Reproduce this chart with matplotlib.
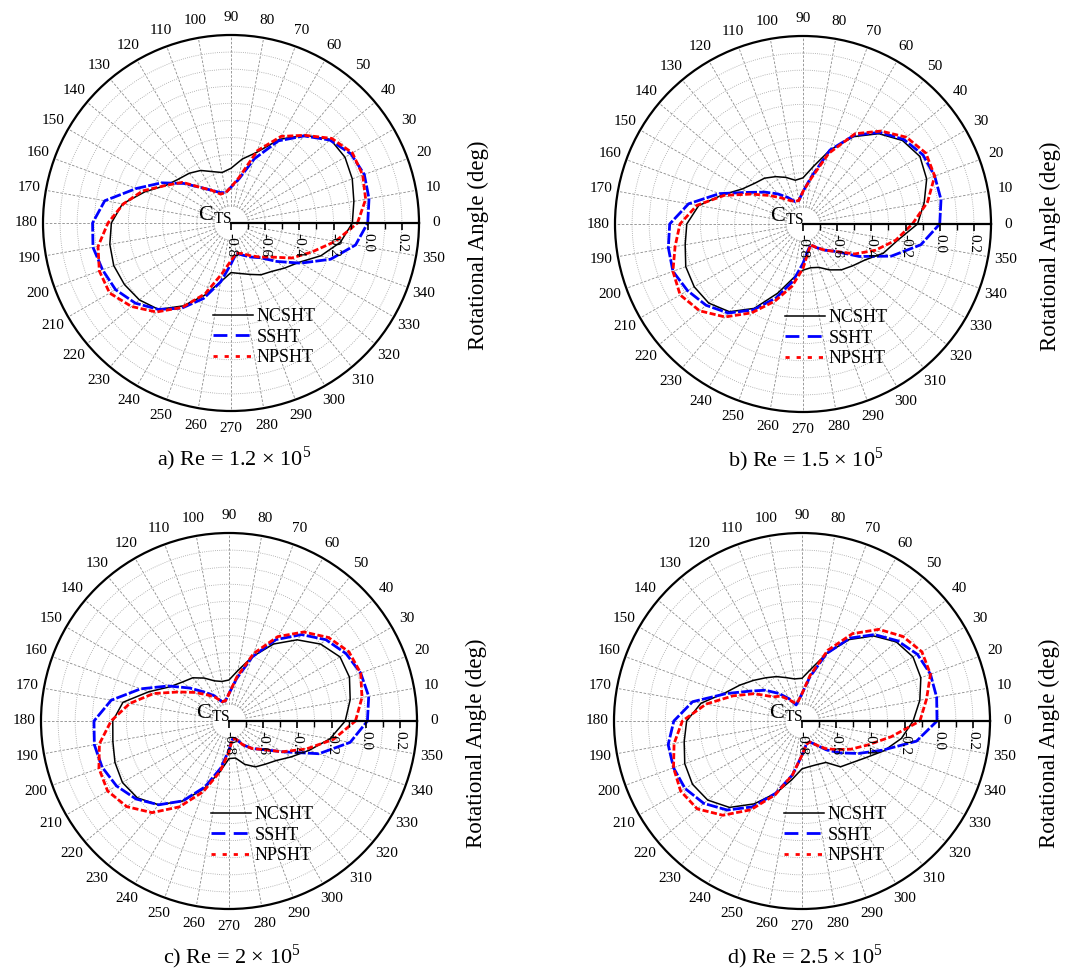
import numpy as np
import matplotlib
matplotlib.use("Agg")
import matplotlib.pyplot as plt
from matplotlib.lines import Line2D
from matplotlib.ticker import FixedLocator

plt.rcParams["font.family"] = ["Liberation Serif", "DejaVu Serif"]
plt.rcParams["mathtext.fontset"] = "custom"
plt.rcParams["mathtext.rm"] = "Liberation Serif"

# Rotational angle (deg) at which the torque coefficient was sampled
angle_deg = np.arange(0, 360, 10)

# C_TS per rotational angle, one list per turbine and Reynolds number
a_ncsht = [-0.09, -0.07, -0.045, -0.03, -0.04, -0.13, -0.235, -0.36, -0.42, -0.48, -0.50, -0.48,
           -0.445, -0.42, -0.40, -0.36, -0.265, -0.155, -0.10, -0.08, -0.07, -0.08, -0.10, -0.14,
           -0.24, -0.35, -0.45, -0.51, -0.50, -0.48, -0.45, -0.43, -0.39, -0.34, -0.24, -0.15]
a_ssht = [0.00, 0.02, 0.03, 0.01, -0.045, -0.135, -0.245, -0.40, -0.54, -0.59, -0.62, -0.61,
          -0.58, -0.53, -0.44, -0.33, -0.21, -0.05, 0.01, 0.02, 0.00, -0.02, -0.07, -0.14,
          -0.225, -0.33, -0.45, -0.56, -0.62, -0.60, -0.57, -0.535, -0.45, -0.33, -0.18, -0.06]
a_npsht = [-0.06, 0.00, 0.02, 0.02, -0.03, -0.13, -0.215, -0.35, -0.53, -0.59, -0.62, -0.62,
           -0.58, -0.53, -0.43, -0.36, -0.25, -0.16, -0.08, -0.01, 0.02, 0.02, -0.04, -0.12,
           -0.23, -0.36, -0.50, -0.58, -0.62, -0.61, -0.58, -0.54, -0.49, -0.39, -0.30, -0.18]

b_ncsht = [-0.13, -0.08, -0.03, -0.01, -0.04, -0.11, -0.21, -0.34, -0.46, -0.53, -0.54, -0.51,
           -0.48, -0.45, -0.43, -0.39, -0.30, -0.18, -0.12, -0.10, -0.07, -0.065, -0.08, -0.13,
           -0.23, -0.37, -0.48, -0.53, -0.54, -0.53, -0.49, -0.45, -0.42, -0.38, -0.30, -0.24]
b_ssht = [0.00, 0.02, 0.02, 0.01, -0.03, -0.10, -0.20, -0.34, -0.52, -0.61, -0.66, -0.66,
          -0.62, -0.57, -0.51, -0.43, -0.28, -0.12, -0.02, 0.00, 0.01, -0.02, -0.06, -0.12,
          -0.22, -0.34, -0.46, -0.57, -0.64, -0.67, -0.64, -0.60, -0.55, -0.42, -0.25, -0.10]
b_npsht = [-0.16, -0.06, 0.02, 0.03, -0.01, -0.09, -0.19, -0.36, -0.53, -0.61, -0.66, -0.66,
           -0.64, -0.60, -0.54, -0.45, -0.31, -0.17, -0.08, -0.04, 0.01, 0.03, -0.01, -0.09,
           -0.20, -0.32, -0.43, -0.54, -0.63, -0.67, -0.64, -0.60, -0.55, -0.45, -0.35, -0.25]

c_ncsht = [-0.12, -0.08, -0.05, -0.05, -0.10, -0.18, -0.28, -0.40, -0.50, -0.56, -0.565, -0.55,
           -0.51, -0.47, -0.445, -0.40, -0.30, -0.17, -0.12, -0.11, -0.09, -0.08, -0.10, -0.16,
           -0.26, -0.38, -0.50, -0.58, -0.58, -0.53, -0.49, -0.47, -0.44, -0.38, -0.30, -0.20]
c_ssht = [0.01, 0.03, 0.02, -0.01, -0.06, -0.14, -0.25, -0.40, -0.55, -0.64, -0.68, -0.68,
          -0.63, -0.58, -0.50, -0.39, -0.25, -0.10, -0.01, 0.00, -0.01, -0.04, -0.09, -0.16,
          -0.26, -0.39, -0.52, -0.63, -0.69, -0.69, -0.64, -0.59, -0.54, -0.44, -0.24, -0.08]
c_npsht = [-0.06, -0.01, 0.02, 0.01, -0.04, -0.12, -0.23, -0.38, -0.54, -0.64, -0.68, -0.68,
           -0.64, -0.60, -0.54, -0.46, -0.33, -0.21, -0.11, -0.03, 0.01, 0.02, -0.02, -0.10,
           -0.22, -0.36, -0.50, -0.62, -0.69, -0.69, -0.64, -0.59, -0.54, -0.44, -0.32, -0.18]

d_ncsht = [-0.15, -0.10, -0.06, -0.05, -0.08, -0.15, -0.25, -0.38, -0.49, -0.55, -0.55, -0.53,
           -0.50, -0.47, -0.43, -0.38, -0.32, -0.20, -0.125, -0.10, -0.07, -0.06, -0.08, -0.14,
           -0.24, -0.35, -0.45, -0.52, -0.53, -0.53, -0.52, -0.45, -0.42, -0.37, -0.29, -0.21]
d_ssht = [-0.01, 0.00, 0.00, -0.02, -0.07, -0.14, -0.24, -0.38, -0.54, -0.64, -0.68, -0.70,
          -0.65, -0.59, -0.52, -0.45, -0.33, -0.15, -0.05, -0.005, 0.00, -0.01, -0.05, -0.12,
          -0.22, -0.35, -0.48, -0.60, -0.66, -0.67, -0.64, -0.58, -0.51, -0.42, -0.30, -0.12]
d_npsht = [-0.11, -0.06, 0.00, 0.01, -0.03, -0.10, -0.21, -0.36, -0.53, -0.64, -0.68, -0.69,
           -0.66, -0.61, -0.58, -0.48, -0.37, -0.23, -0.10, -0.04, 0.00, 0.02, 0.00, -0.08,
           -0.20, -0.34, -0.48, -0.60, -0.66, -0.67, -0.64, -0.59, -0.54, -0.47, -0.39, -0.27]

series_names = ["NCSHT", "SSHT", "NPSHT"]
panel_titles = [
    r"a) Re = 1.2 × 10$^{\mathregular{5}}$",
    r"b) Re = 1.5 × 10$^{\mathregular{5}}$",
    r"c) Re = 2 × 10$^{\mathregular{5}}$",
    r"d) Re = 2.5 × 10$^{\mathregular{5}}$",
]
panel_data = [
    (a_ncsht, a_ssht, a_npsht),
    (b_ncsht, b_ssht, b_npsht),
    (c_ncsht, c_ssht, c_npsht),
    (d_ncsht, d_ssht, d_npsht),
]
radial_ticks = [-0.8, -0.6, -0.4, -0.2, 0.0, 0.2]
radial_minor = [-0.7, -0.5, -0.3, -0.1, 0.1]
angle_ticks = np.arange(0, 360, 10)

# ---- layout (pixels) ----
W, H = 1067, 971
R = 188
RMIN, RMAX = -0.8, 0.3
centers = [(231, 223), (803, 224), (229, 721), (802, 721)]

fig = plt.figure(figsize=(W / 100, H / 100), dpi=100)


def fx(x):
    return x / W


def fy(y):
    return 1 - y / H


line_styles = [
    dict(color="black", lw=1.1, ls="-"),
    dict(color="#0000ff", lw=2.0, ls=(0, (4, 0.8))),
    dict(color="#ff0000", lw=2.0, ls=(0, (2.2, 0.9))),
]
legend_styles = [
    dict(color="black", lw=1.1, ls="-"),
    dict(color="#0000ff", lw=2.0, ls=(0, (5, 3))),
    dict(color="#ff0000", lw=2.0, ls=(0, (1.5, 2.5))),
]

for (cx, cy), title, data in zip(centers, panel_titles, panel_data):
    ax = fig.add_axes([fx(cx - R), fy(cy + R), 2 * R / W, 2 * R / H], projection="polar")
    ax.set_ylim(RMIN, RMAX)
    ax.set_axisbelow(True)

    # angular grid and outer ticks
    ax.set_xticks(np.deg2rad(angle_ticks))
    ax.set_xticklabels([str(a) for a in angle_ticks], fontsize=11)
    ax.xaxis.set_minor_locator(FixedLocator(np.deg2rad(np.arange(5, 360, 10))))
    ax.tick_params(axis="x", which="major", direction="in", length=8, width=1.3, pad=5.5)
    ax.tick_params(axis="x", which="minor", direction="in", length=4, width=1.0)
    ax.xaxis.grid(True, color="#8a8a8a", lw=0.6, ls=(0, (3, 2)))

    # concentric grid circles every 0.1
    ax.set_yticks(np.round(np.arange(-0.7, 0.25, 0.1), 2))
    ax.set_yticklabels([])
    ax.yaxis.grid(True, color="#a0a0a0", lw=0.6, ls=(0, (1, 1.6)))
    ax.spines["polar"].set_linewidth(1.6)

    # blank disc around the pole
    th = np.linspace(0, 2 * np.pi, 200)
    ax.fill_between(th, RMIN, RMIN + 0.095, color="white", zorder=1.2, lw=0)

    for vals, st, name in zip(data, line_styles, series_names):
        theta = np.deg2rad(np.append(angle_deg, 360))
        r = np.append(vals, vals[0])
        ax.plot(theta, r, color=st["color"], lw=st["lw"], ls=st["ls"], zorder=3, label=name)

    # radial C_TS axis drawn along the 0 deg direction
    rax = fig.add_axes([fx(cx), fy(cy), R / W, 1e-4])
    rax.set_xlim(RMIN, RMAX)
    rax.patch.set_visible(False)
    for side in ("left", "right", "top"):
        rax.spines[side].set_visible(False)
    rax.spines["bottom"].set_linewidth(1.6)
    rax.set_yticks([])
    rax.set_xticks(radial_ticks)
    rax.set_xticklabels([f"{v:.1f}" for v in radial_ticks], rotation=-90, fontsize=11)
    rax.xaxis.set_minor_locator(FixedLocator(radial_minor))
    rax.tick_params(axis="x", which="major", direction="out", length=5, width=1.2, pad=2)
    rax.tick_params(axis="x", which="minor", direction="out", length=4, width=1.0)

    fig.text(fx(cx + 1), fy(cy - 3), r"C$_{\mathregular{TS}}$", fontsize=16,
             ha="right", va="baseline")

    handles = [Line2D([], [], **st) for st in legend_styles]
    fig.legend(handles, series_names, loc="upper left",
               bbox_to_anchor=(fx(cx - 18), fy(cy + 85)), frameon=False, fontsize=13,
               handlelength=2.2, handletextpad=0.2, labelspacing=0.2, borderpad=0,
               borderaxespad=0)

    fig.text(fx(cx + 3), fy(cy + 236), title, fontsize=16, ha="center", va="center")
    fig.text(fx(cx + 247), fy(cy + 22), "Rotational Angle (deg)", fontsize=16.5,
             rotation=90, ha="center", va="center")

fig.savefig("out.png", dpi=100, facecolor="white")
